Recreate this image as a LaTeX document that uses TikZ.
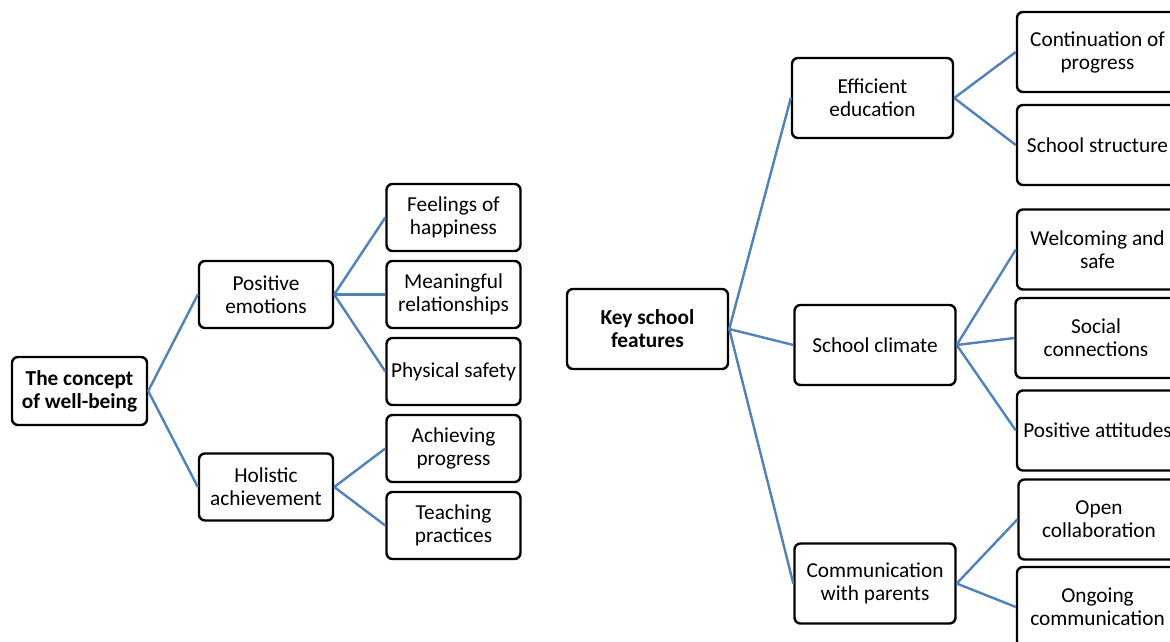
\documentclass[tikz,border=0pt]{standalone}
\usepackage{fontspec}
\setmainfont{Carlito}
\definecolor{linkblue}{HTML}{4F81BD}
\begin{document}
\begin{tikzpicture}[x=1pt,y=-1pt,
  box/.style={draw=black, line width=2.4pt, rounded corners=6pt, align=center,
    inner sep=0pt, text=black, font=\fontsize{21.3}{23}\selectfont},
  leaf/.style={box, minimum width=134pt, minimum height=67pt},
  wide/.style={box, minimum width=161pt, minimum height=80pt},
  root/.style={font=\fontsize{21.3}{23}\selectfont\bfseries},
  link/.style={draw=linkblue, line width=2.4pt}]
\clip (0,0) rectangle (1170,641);

% Left tree: the concept of well-being
\node[leaf, minimum width=135pt, minimum height=68pt, root] (concept) at (79.5,391) {The concept\\of well-being};
\node[leaf] (pos)   at (266,294.5)   {Positive\\emotions};
\node[leaf] (hol)   at (266,487)     {Holistic\\achievement};
\node[leaf] (feel)  at (453.5,217.5) {Feelings of\\happiness};
\node[leaf] (mean)  at (453.5,294.5) {Meaningful\\relationships};
\node[leaf] (phys)  at (453.5,371.5) {Physical safety};
\node[leaf] (ach)   at (453.5,448.5) {Achieving\\progress};
\node[leaf] (teach) at (453.5,525.5) {Teaching\\practices};

\draw[link] (concept.east) -- (pos.west);
\draw[link] (concept.east) -- (hol.west);
\draw[link] (pos.east) -- (feel.west);
\draw[link] (pos.east) -- (mean.west);
\draw[link] (pos.east) -- (phys.west);
\draw[link] (hol.east) -- (ach.west);
\draw[link] (hol.east) -- (teach.west);

% Right tree: key school features
\node[wide, root] (key) at (647.5,329) {Key school\\features};
\node[wide] (eff)    at (872.5,98)    {Efficient\\education};
\node[wide] (clim)   at (875,345)     {School climate};
\node[wide] (comm)   at (875,583.5)   {Communication\\with parents};
\node[wide] (cont)   at (1097.5,52)   {Continuation of\\progress};
\node[wide] (struct) at (1097.5,145)  {School structure};
\node[wide] (welc)   at (1097.5,249.5){Welcoming and\\safe};
\node[wide] (soc)    at (1096,338)    {Social\\connections};
\node[wide] (att)    at (1097.5,430.5){Positive attitudes};
\node[wide] (open)   at (1099,519.5)  {Open\\collaboration};
\node[wide] (ongo)   at (1097.5,607)  {Ongoing\\communication};

\draw[link] (key.east) -- (eff.west);
\draw[link] (key.east) -- (clim.west);
\draw[link] (key.east) -- (comm.west);
\draw[link] (eff.east) -- (cont.west);
\draw[link] (eff.east) -- (struct.west);
\draw[link] (clim.east) -- (welc.west);
\draw[link] (clim.east) -- (soc.west);
\draw[link] (clim.east) -- (att.west);
\draw[link] (comm.east) -- (open.west);
\draw[link] (comm.east) -- (ongo.west);
\end{tikzpicture}
\end{document}
